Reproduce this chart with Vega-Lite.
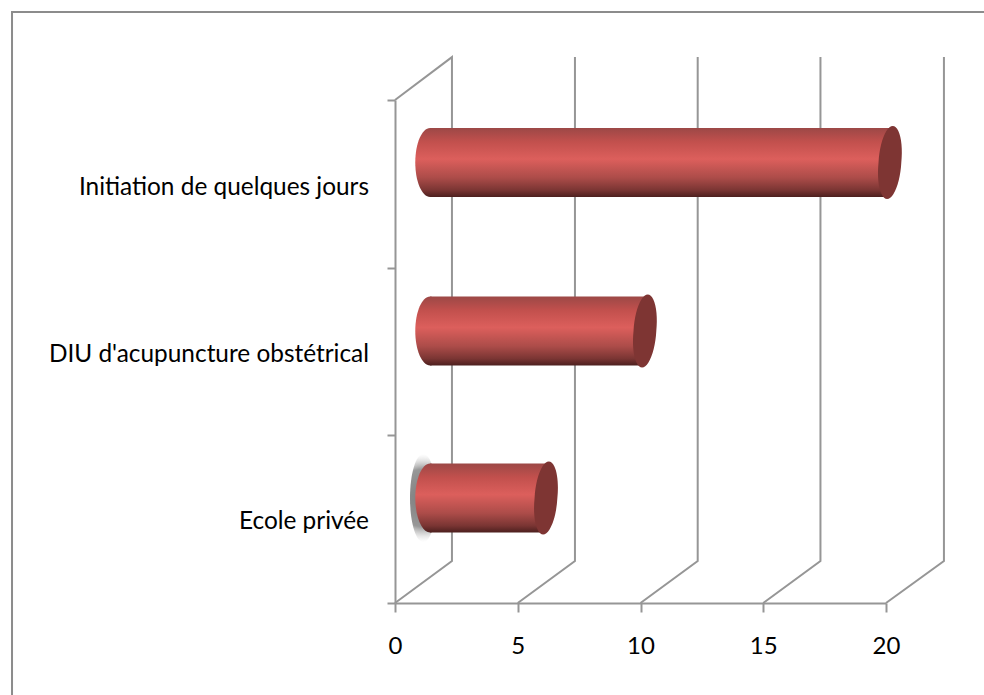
{
"$schema":"https://vega.github.io/schema/vega-lite/v6.json",
"width":491,"height":503,
"autosize":{"type":"none"},
"padding":{"left":395,"top":100,"right":98,"bottom":92},
"background":"white",
"config":{"view":{"stroke":null}},
"datasets":{
"grid":[
{"g":"wall","s":1,"x":0,"y":3},{"g":"wall","s":2,"x":2.32,"y":3.256},{"g":"wall","s":3,"x":2.32,"y":0.25},{"g":"wall","s":4,"x":0,"y":0},
{"g":"5","s":1,"x":5,"y":0},{"g":"5","s":2,"x":7.33,"y":0.25},{"g":"5","s":3,"x":7.33,"y":3.256},
{"g":"10","s":1,"x":10,"y":0},{"g":"10","s":2,"x":12.33,"y":0.25},{"g":"10","s":3,"x":12.33,"y":3.256},
{"g":"15","s":1,"x":15,"y":0},{"g":"15","s":2,"x":17.33,"y":0.25},{"g":"15","s":3,"x":17.33,"y":3.256},
{"g":"20","s":1,"x":20,"y":0},{"g":"20","s":2,"x":22.36,"y":0.25},{"g":"20","s":3,"x":22.36,"y":3.256}
],
"frame":[{"s":1,"x":-15.6,"y":-0.56},{"s":2,"x":-15.6,"y":3.525},{"s":3,"x":24,"y":3.525}],
"bars":[
{"cat":"Initiation de quelques jours","start":1.43,"end":20.16,"mid":2.627,"top":2.833,"bottom":2.421,"band":2.475},
{"cat":"DIU d'acupuncture obstétrical","start":1.43,"end":10.18,"mid":1.622,"top":1.828,"bottom":1.416,"band":1.48},
{"cat":"Ecole privée","start":1.43,"end":6.15,"mid":0.626,"top":0.832,"bottom":0.42,"band":0.483}
],
"smudge":[{"cat":"Ecole privée","x":1.15,"mid":0.626}]
},
"layer":[
{"data":{"name":"frame"},
"mark":{"type":"line","stroke":"#8c8c8c","strokeWidth":2,"clip":false},
"encoding":{
"x":{"field":"x","type":"quantitative","scale":{"domain":[0,20],"nice":false,"zero":false},
"axis":{"values":[0,5,10,15,20],"grid":false,"title":null,"domainColor":"#969696","domainWidth":2,"tickColor":"#969696","tickWidth":2,"tickSize":9,"labelFont":"Lato","labelFontSize":24,"labelColor":"#000000","labelPadding":22,"labelFlush":false,"format":"d"}},
"y":{"field":"y","type":"quantitative","scale":{"domain":[0,3],"nice":false,"zero":false},
"axis":{"values":[0,1,2,3],"grid":false,"title":null,"labels":false,"domainColor":"#969696","domainWidth":2,"tickColor":"#969696","tickWidth":2,"tickSize":8}},
"order":{"field":"s","type":"quantitative"}}},
{"data":{"name":"grid"},
"mark":{"type":"line","stroke":"#969696","strokeWidth":2},
"encoding":{
"x":{"field":"x","type":"quantitative"},
"y":{"field":"y","type":"quantitative"},
"detail":{"field":"g"},
"order":{"field":"s","type":"quantitative"}}},
{"data":{"name":"smudge"},
"mark":{"type":"point","filled":true,"opacity":1,"size":7800,"shape":"M -0.3,0 A 0.3 1 0 1 1 0.3 0 A 0.3 1 0 1 1 -0.3 0 Z",
"fill":{"gradient":"radial","stops":[{"offset":0,"color":"rgba(110,110,110,0.9)"},{"offset":0.65,"color":"rgba(125,125,125,0.8)"},{"offset":1,"color":"rgba(210,210,210,0)"}]}},
"encoding":{"x":{"field":"x","type":"quantitative"},"y":{"field":"mid","type":"quantitative"}}},
{"data":{"name":"bars"},
"mark":{"type":"rect","fill":{"gradient":"linear","x1":0,"y1":0,"x2":0,"y2":1,"stops":[{"offset":0,"color":"#9c4846"},{"offset":0.2,"color":"#c2504d"},{"offset":0.45,"color":"#dc5f5c"},{"offset":0.72,"color":"#ac4c49"},{"offset":0.9,"color":"#7a3533"},{"offset":1,"color":"#4c1f1e"}]}},
"encoding":{
"x":{"field":"start","type":"quantitative"},"x2":{"field":"end"},
"y":{"field":"top","type":"quantitative"},"y2":{"field":"bottom"}}},
{"data":{"name":"bars"},
"mark":{"type":"point","filled":true,"opacity":1,"size":4761,"shape":"M -0.43,0 A 0.43 1 0 1 1 0.43 0 A 0.43 1 0 1 1 -0.43 0 Z",
"fill":{"gradient":"linear","x1":0,"y1":0,"x2":0,"y2":1,"stops":[{"offset":0,"color":"#9c4846"},{"offset":0.2,"color":"#c2504d"},{"offset":0.45,"color":"#dc5f5c"},{"offset":0.72,"color":"#ac4c49"},{"offset":0.9,"color":"#7a3533"},{"offset":1,"color":"#4c1f1e"}]}},
"encoding":{"x":{"field":"start","type":"quantitative"},"y":{"field":"mid","type":"quantitative"}}},
{"data":{"name":"bars"},
"mark":{"type":"point","filled":true,"opacity":1,"size":4761,"fill":"#7e3533","shape":"M -0.33,0 A 0.33 0.98 5 1 1 0.33 0 A 0.33 0.98 5 1 1 -0.33 0 Z"},
"encoding":{"x":{"field":"end","type":"quantitative"},"y":{"field":"mid","type":"quantitative"}}},
{"data":{"name":"bars"},
"mark":{"type":"text","align":"right","baseline":"middle","dx":-26,"font":"Lato","fontSize":24.4,"color":"#000000"},
"encoding":{"x":{"datum":0,"type":"quantitative"},"y":{"field":"band","type":"quantitative"},"text":{"field":"cat"}}}
]
}
